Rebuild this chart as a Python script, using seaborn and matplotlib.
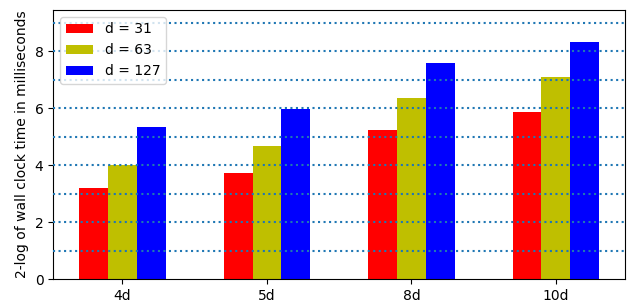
import matplotlib
matplotlib.use("Agg")
import matplotlib.pyplot as plt
import seaborn as sns
import pandas as pd

groups = ["4d", "5d", "8d", "10d"]
series = ["d = 31", "d = 63", "d = 127"]
d31 = [3.19, 3.72, 5.23, 5.86]
d63 = [4.00, 4.67, 6.35, 7.09]
d127 = [5.33, 5.96, 7.58, 8.32]
colors = ["red", "y", "blue"]

rows = []
for name, vals in zip(series, [d31, d63, d127]):
    for g, v in zip(groups, vals):
        rows.append({"group": g, "series": name, "value": v})
df = pd.DataFrame(rows)

fig, ax = plt.subplots(figsize=(6.4, 3.03), dpi=100)

sns.barplot(
    data=df, x="group", y="value", hue="series",
    order=groups, hue_order=series, palette=colors,
    width=0.6, saturation=1, ax=ax,
)

# dotted horizontal lines at every integer, drawn over the bars
for i in range(1, 10):
    ax.axhline(i, linestyle=":", color="tab:blue", linewidth=1.5, zorder=5)

ax.set_xlim(-0.48, 3.48)
ax.set_ylim(0, 9.44)
ax.set_yticks([0, 2, 4, 6, 8])
ax.set_xlabel("")
ax.set_ylabel("2-log of wall clock time in milliseconds")

handles, labels = ax.get_legend_handles_labels()
ax.legend(handles, labels, loc="upper left", title=None)
ax.get_legend().set_zorder(10)

plt.subplots_adjust(left=0.083, right=0.977, top=0.967, bottom=0.079)
plt.savefig("out.png")
plt.close()
